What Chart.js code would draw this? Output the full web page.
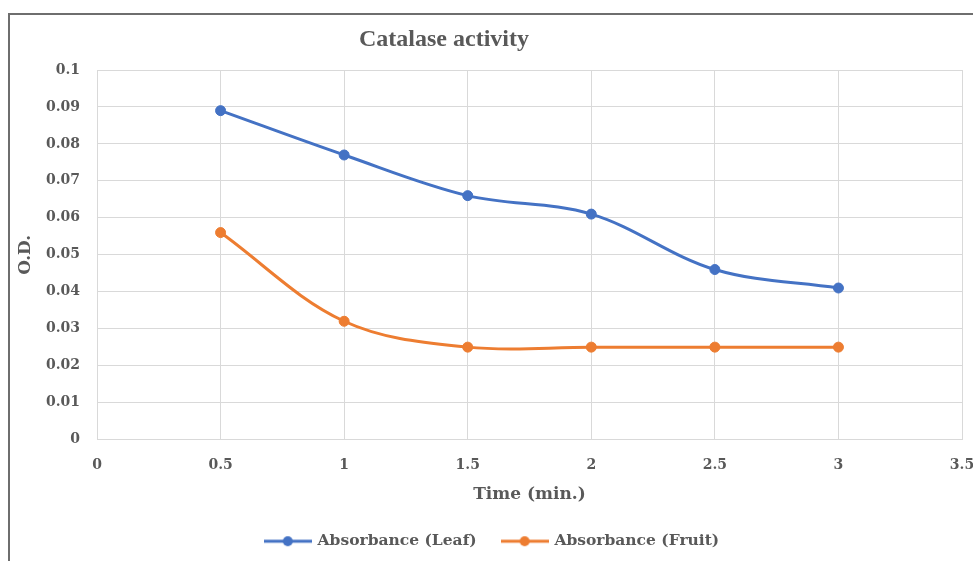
<!DOCTYPE html>
<html>
<head>
<meta charset="utf-8">
<script src="https://cdn.jsdelivr.net/npm/chart.js@4.4.0/dist/chart.umd.min.js"></script>
<style>
  html, body { margin: 0; padding: 0; background: #fff; overflow: hidden; }
  body { width: 973px; height: 561px; position: relative; }
  #frame { position: absolute; left: 8px; top: 13px; width: 1000px; height: 600px; border: 2px solid #6e6e6e; }
  #catalaseChart { position: absolute; left: 0; top: 0; }
</style>
</head>
<body>
<div id="frame"><canvas id="catalaseChart" width="965" height="546"></canvas></div>
<script>
// chart data
const chartTitle = "Catalase activity";
const xAxisTitle = "Time (min.)";
const yAxisTitle = "O.D.";
const seriesNames = ["Absorbance (Leaf)", "Absorbance (Fruit)"];
const timeMin = [0.5, 1, 1.5, 2, 2.5, 3];
const leafAbsorbance = [0.089, 0.077, 0.066, 0.061, 0.046, 0.041];
const fruitAbsorbance = [0.056, 0.032, 0.025, 0.025, 0.025, 0.025];
const xTickStep = 0.5, xMax = 3.5;
const yTickStep = 0.01, yMax = 0.1;

const seriesColors = ["#4472C4", "#ED7D31"];
const textColor = "#595959";
const gridColor = "#d9d9d9";

Chart.defaults.font.family = "'DejaVu Serif', serif";
Chart.defaults.font.weight = "bold";
Chart.defaults.font.size = 14;
Chart.defaults.color = textColor;

// legend symbol: short line with a round marker in the middle
function legendMarker(color) {
  const c = document.createElement("canvas");
  c.width = 48; c.height = 12;
  const g = c.getContext("2d");
  g.strokeStyle = color; g.lineWidth = 3;
  g.beginPath(); g.moveTo(0, 6); g.lineTo(48, 6); g.stroke();
  g.fillStyle = color;
  g.beginPath(); g.arc(24, 6, 5, 0, Math.PI * 2); g.fill();
  return c;
}

// title sits left of centre in the original, so draw it ourselves
const offsetTitle = {
  id: "offsetTitle",
  afterDraw(chart) {
    const ctx = chart.ctx;
    ctx.save();
    ctx.font = "bold 24px 'Liberation Serif', serif";
    ctx.fillStyle = textColor;
    ctx.textAlign = "center";
    ctx.textBaseline = "alphabetic";
    ctx.fillText(chartTitle, 434, 31);
    ctx.restore();
  }
};

function toPoints(ys) {
  return timeMin.map((x, i) => ({ x: x, y: ys[i] }));
}

function lineSet(label, ys, color) {
  return {
    label: label,
    data: toPoints(ys),
    borderColor: color,
    backgroundColor: color,
    borderWidth: 3,
    pointRadius: 5,
    pointBorderWidth: 1,
    pointHoverRadius: 5,
    tension: 0.35,
    fill: false
  };
}

const fmt = v => String(Number(v.toFixed(2)));

const ctx = document.getElementById("catalaseChart").getContext("2d");
new Chart(ctx, {
  type: "line",
  data: {
    datasets: [
      lineSet(seriesNames[0], leafAbsorbance, seriesColors[0]),
      lineSet(seriesNames[1], fruitAbsorbance, seriesColors[1])
    ]
  },
  options: {
    responsive: false,
    animation: false,
    layout: { padding: { top: 55, right: 0, bottom: 2, left: 0 } },
    plugins: {
      title: { display: false },
      tooltip: { enabled: false },
      legend: {
        position: "bottom",
        labels: {
          usePointStyle: true,
          pointStyleWidth: 44,
          padding: 26,
          color: textColor,
          font: { size: 15.5, weight: "bold" },
          generateLabels(chart) {
            return chart.data.datasets.map((ds, i) => ({
              text: ds.label,
              pointStyle: legendMarker(ds.borderColor),
              fillStyle: ds.borderColor,
              strokeStyle: ds.borderColor,
              lineWidth: 0,
              hidden: false,
              datasetIndex: i,
              fontColor: textColor
            }));
          }
        }
      }
    },
    scales: {
      x: {
        type: "linear",
        min: 0,
        max: xMax,
        afterFit(scale) { scale.height = 68; scale.paddingRight = 13; },
        ticks: { stepSize: xTickStep, padding: 17, font: { size: 14 }, callback: fmt },
        grid: { color: gridColor, drawTicks: false },
        border: { color: gridColor },
        title: { display: true, text: xAxisTitle, font: { size: 17 }, padding: { top: 0, bottom: 3 } }
      },
      y: {
        min: 0,
        max: yMax,
        afterFit(scale) { scale.width = 87; },
        ticks: { stepSize: yTickStep, padding: 17, font: { size: 14 }, callback: fmt },
        grid: { color: gridColor, drawTicks: false },
        border: { color: gridColor },
        title: { display: true, text: yAxisTitle, font: { size: 17 }, padding: { top: 5, bottom: 0 } }
      }
    }
  },
  plugins: [offsetTitle]
});
</script>
</body>
</html>
